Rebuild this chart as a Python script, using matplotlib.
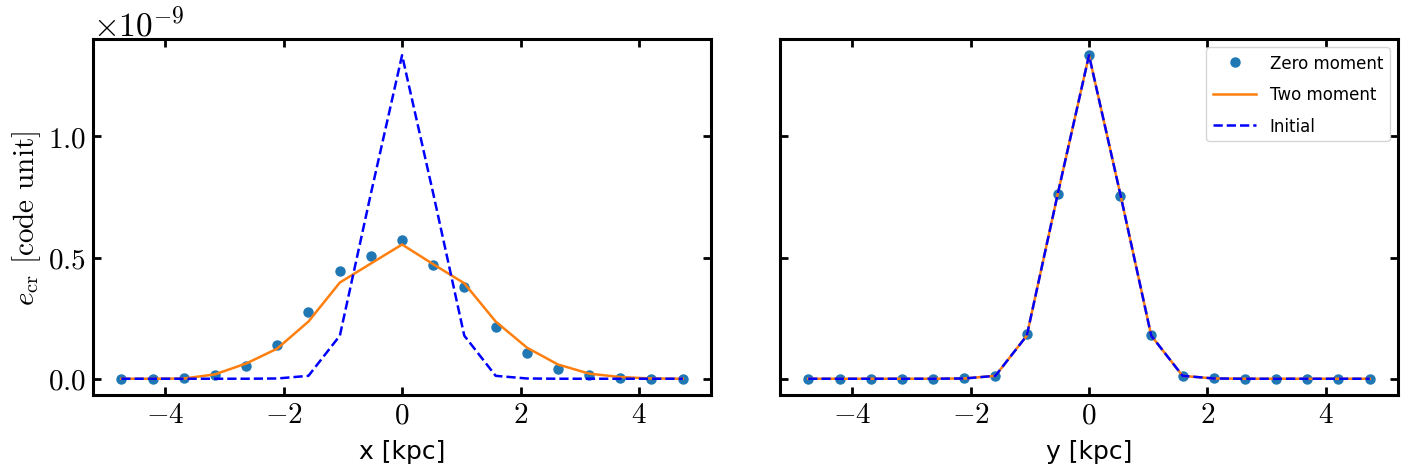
import numpy as np
import matplotlib
matplotlib.use("Agg")
import matplotlib.pyplot as plt

# grid positions (kpc) and profiles, values in units of 1e-9
pos = [-4.74, -4.21, -3.68, -3.16, -2.63, -2.11, -1.58, -1.05, -0.53, 0.0,
       0.53, 1.05, 1.58, 2.11, 2.63, 3.16, 3.68, 4.21, 4.74]

x_zero = [0.0, 0.0, 0.003, 0.015, 0.052, 0.141, 0.276, 0.443, 0.508, 0.572,
          0.471, 0.379, 0.215, 0.105, 0.040, 0.014, 0.003, 0.0005, 0.0]
x_two = [0.0, 0.0, 0.001, 0.018, 0.063, 0.124, 0.236, 0.397, 0.475, 0.554,
         0.472, 0.394, 0.236, 0.128, 0.059, 0.021, 0.007, 0.001, 0.0]
x_init = [0.0, 0.0, 0.0, 0.0, 0.0, 0.001, 0.012, 0.178, 0.760, 1.335,
          0.760, 0.178, 0.012, 0.001, 0.0, 0.0, 0.0, 0.0, 0.0]

y_zero = [0.0, 0.0, 0.0, 0.0, 0.0, 0.001, 0.012, 0.185, 0.762, 1.335,
          0.755, 0.182, 0.012, 0.001, 0.0, 0.0, 0.0, 0.0, 0.0]
y_two = [0.0, 0.0, 0.0, 0.0, 0.0, 0.001, 0.012, 0.178, 0.760, 1.335,
         0.760, 0.178, 0.012, 0.001, 0.0, 0.0, 0.0, 0.0, 0.0]
y_init = [0.0, 0.0, 0.0, 0.0, 0.0, 0.001, 0.012, 0.178, 0.760, 1.335,
          0.760, 0.178, 0.012, 0.001, 0.0, 0.0, 0.0, 0.0, 0.0]

scale = 1e-9

plt.rcParams["font.family"] = "serif"
plt.rcParams["font.serif"] = ["cmr10"]
plt.rcParams["mathtext.fontset"] = "cm"
plt.rcParams["axes.formatter.use_mathtext"] = True
plt.rcParams["axes.unicode_minus"] = True

fig, axes = plt.subplots(1, 2, figsize=(14.12, 4.77), dpi=100, sharey=True)
fig.subplots_adjust(left=0.066, right=0.990, top=0.916, bottom=0.170, wspace=0.112)

panels = [
    (axes[0], x_zero, x_two, x_init, "x [kpc]"),
    (axes[1], y_zero, y_two, y_init, "y [kpc]"),
]

for ax, zero, two, init, lab in panels:
    ax.plot(pos, np.array(zero) * scale, "o", color="#1f77b4", ms=6.5, label="Zero moment")
    ax.plot(pos, np.array(two) * scale, "-", color="#ff7f0e", lw=1.8, label="Two moment")
    ax.plot(pos, np.array(init) * scale, "--", color="blue", lw=1.8, label="Initial")
    ax.set_xlabel(lab, family="DejaVu Sans", fontsize=18, labelpad=8)
    ax.tick_params(direction="in", top=True, right=True, length=6, width=2,
                   labelsize=21, pad=5)
    for sp in ax.spines.values():
        sp.set_linewidth(2.2)

axes[0].set_ylabel(r"$e_{\rm cr}$ [code unit]", fontsize=21)
axes[0].yaxis.get_offset_text().set_fontsize(24)
axes[0].set_yticks([0.0, 0.5e-9, 1.0e-9])
axes[1].tick_params(labelleft=False)

leg = axes[1].legend(loc="upper right", prop={"family": "DejaVu Sans", "size": 12},
                     labelspacing=0.8, handlelength=2.6)

plt.savefig("out.png", dpi=100)
plt.close()
